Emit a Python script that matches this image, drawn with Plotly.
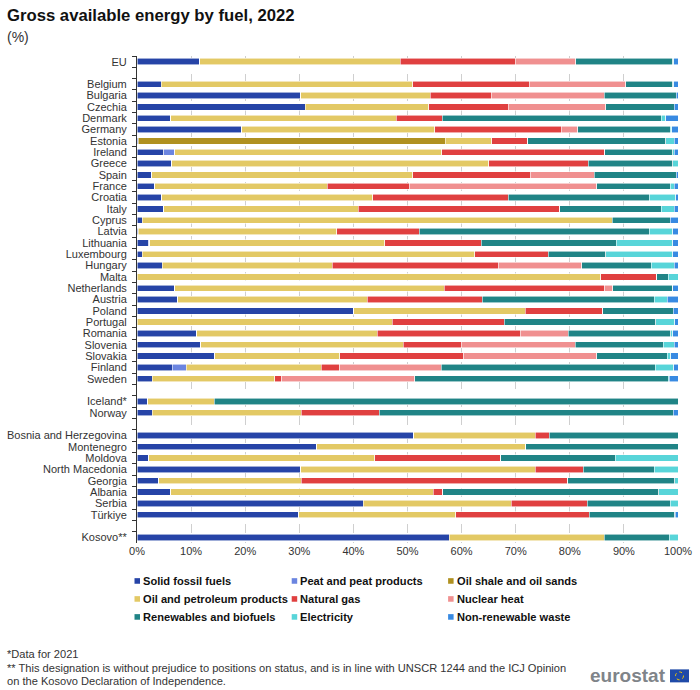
import plotly.graph_objects as go

W, H = 700, 690
LEFT, RIGHT, TOP, BOTTOM = 137.3, 678.3, 56, 543.5
FONT = 'Liberation Sans'

countries = ['EU', ' ',
             'Belgium', 'Bulgaria', 'Czechia', 'Denmark', 'Germany', 'Estonia', 'Ireland', 'Greece', 'Spain',
             'France', 'Croatia', 'Italy', 'Cyprus', 'Latvia', 'Lithuania', 'Luxembourg', 'Hungary', 'Malta',
             'Netherlands', 'Austria', 'Poland', 'Portugal', 'Romania', 'Slovenia', 'Slovakia', 'Finland', 'Sweden',
             '  ',
             'Iceland*', 'Norway',
             '   ',
             'Bosnia and Herzegovina', 'Montenegro', 'Moldova', 'North Macedonia', 'Georgia', 'Albania', 'Serbia',
             'Türkiye',
             '    ',
             'Kosovo**']

solid = [11.5, None,
         4.5, 30.3, 31.1, 6.2, 19.4, 0, 4.9, 6.4, 2.7, 3.3, 4.6, 4.9, 1.0, 0, 2.2, 1.0, 4.7, 0, 7.0, 7.5, 40.1, 0, 11.0, 11.8, 14.4, 6.5, 2.8,
         None, 2.0, 2.8, None,
         51.2, 33.2, 2.2, 30.3, 4.0, 6.2, 41.8, 29.9,
         None, 57.7]
peat = [0.1, None,
        0, 0, 0, 0, 0, 0.2, 2.1, 0, 0, 0, 0, 0, 0, 0.2, 0.2, 0, 0, 0, 0, 0, 0, 0, 0, 0, 0, 2.6, 0,
        None, 0, 0, None,
        0, 0, 0, 0, 0, 0, 0, 0,
        None, 0]
shale = [0, None,
         0, 0, 0, 0, 0, 56.8, 0, 0, 0, 0, 0, 0, 0, 0, 0, 0, 0, 0, 0, 0, 0, 0, 0, 0, 0, 0, 0,
         None, 0, 0, None,
         0, 0, 0, 0, 0, 0, 0, 0,
         None, 0]
oil = [37.1, None,
       46.5, 23.9, 22.8, 41.7, 35.6, 8.6, 49.3, 58.6, 48.3, 31.9, 39.0, 36.0, 86.8, 36.7, 43.4, 61.4, 31.4, 85.7, 49.8, 35.1, 31.7, 47.2, 33.4, 37.4, 23.1, 25.0, 22.7,
       None, 12.3, 27.6, None,
       22.4, 38.7, 41.7, 43.3, 26.4, 48.6, 27.4, 29.0,
       None, 28.7]
gas = [21.2, None,
       21.5, 11.3, 14.7, 8.5, 23.4, 6.6, 30.2, 18.4, 21.7, 15.1, 25.0, 37.2, 0, 15.3, 17.8, 13.6, 30.7, 10.4, 29.7, 21.2, 14.3, 20.7, 26.4, 10.7, 22.9, 3.4, 1.3,
       None, 0, 14.4, None,
       2.6, 0, 23.3, 8.9, 49.2, 1.7, 14.0, 24.7,
       None, 0]
nuclear = [11.2, None,
           17.8, 20.9, 18.0, 0, 3.1, 0, 0, 0, 11.8, 34.7, 0, 0, 0, 0, 0, 0, 15.4, 0, 1.4, 0, 0, 0, 8.9, 21.1, 24.6, 18.7, 24.5,
           None, 0, 0, None,
           0, 0, 0, 0, 0, 0, 0, 0,
           None, 0]
renewables = [17.9, None,
              8.7, 13.3, 12.7, 40.5, 17.1, 25.5, 12.5, 15.6, 15.2, 13.6, 26.1, 18.8, 10.8, 42.5, 25.0, 10.6, 12.9, 2.1, 11.1, 31.8, 13.0, 28.0, 19.0, 16.3, 13.0, 39.6, 46.9,
              None, 85.7, 54.3, None,
              23.8, 28.1, 21.2, 13.1, 19.8, 39.9, 15.4, 15.8,
              None, 12.0]
electricity = [0.2, None,
               0.2, 0, 0, 0.8, 0.2, 1.6, 0.3, 1.0, 0, 0.7, 4.9, 2.4, 0, 4.3, 10.4, 12.4, 4.2, 1.8, 0, 2.4, 0, 3.5, 0.3, 2.0, 0.7, 3.4, 0.2,
               None, 0, 0, None,
               0, 0, 11.6, 4.4, 0.6, 3.6, 1.4, 0.1,
               None, 1.6]
waste = [0.8, None,
         0.8, 0.3, 0.7, 2.3, 1.2, 0.7, 0.7, 0, 0.3, 0.7, 0.4, 0.7, 1.4, 1.0, 1.0, 1.0, 0.7, 0, 1.0, 2.0, 0.9, 0.6, 1.0, 0.7, 1.3, 0.8, 1.6,
         None, 0, 0.9, None,
         0, 0, 0, 0, 0, 0, 0, 0.5,
         None, 0]

pct_ticks = list(range(0, 101, 10))
pct_labels = [f'{v}%' for v in pct_ticks]

fuels = [
    ('Solid fossil fuels', solid, '#2644A7'),
    ('Peat and peat products', peat, '#6B85E0'),
    ('Oil shale and oil sands', shale, '#B09120'),
    ('Oil and petroleum products', oil, '#E3C965'),
    ('Natural gas', gas, '#E04040'),
    ('Nuclear heat', nuclear, '#F09090'),
    ('Renewables and biofuels', renewables, '#208486'),
    ('Electricity', electricity, '#58D5D9'),
    ('Non-renewable waste', waste, '#388AE2'),
]

# pixel position on the page -> paper fraction, for legend and footer items
def px(x):
    return (x - LEFT) / (RIGHT - LEFT)

def py(y):
    return (BOTTOM - y) / (BOTTOM - TOP)

fig = go.Figure()
for name, values, colour in fuels:
    fig.add_trace(go.Bar(y=countries, x=values, name=name, orientation='h',
                         marker=dict(color=colour, line=dict(color='rgba(255,255,255,0.8)', width=0.7)),
                         showlegend=False))

shapes = []
annotations = []

# legend is laid out by hand: small squares, three columns
legend_cols = [134.8, 292, 448.4]
legend_rows = [581.5, 599.5, 617.5]
for i, (name, values, colour) in enumerate(fuels):
    x0 = legend_cols[i % 3]
    yc = legend_rows[i // 3]
    shapes.append(dict(type='rect', xref='paper', yref='paper', x0=px(x0), x1=px(x0 + 5.5),
                       y0=py(yc + 2.8), y1=py(yc - 2.8), fillcolor=colour, line_width=0))
    annotations.append(dict(text=f'<b>{name}</b>', xref='paper', yref='paper', x=px(x0 + 6.5), y=py(yc), xanchor='left',
                            yanchor='middle', showarrow=False, font=dict(family=FONT, size=11.1, color='#111111')))

annotations.append(dict(text='(%)', xref='paper', yref='paper', x=px(5), y=py(36.5), xanchor='left', yanchor='middle',
                        showarrow=False, font=dict(family=FONT, size=14, color='#333333')))

notes = ['*Data for 2021',
         '** This designation is without prejudice to positions on status, and is in line with UNSCR 1244 and the ICJ Opinion',
         'on the Kosovo Declaration of Independence.']
for line, yc in zip(notes, [654.5, 668.5, 681.5]):
    annotations.append(dict(text=line, xref='paper', yref='paper', x=px(5.5), y=py(yc), xanchor='left', yanchor='middle',
                            showarrow=False, font=dict(family=FONT, size=11.1, color='#333333')))

# eurostat mark
annotations.append(dict(text='<b>eurostat</b>', xref='paper', yref='paper', x=px(668.5), y=py(676.5), xanchor='right',
                        yanchor='middle', showarrow=False, font=dict(family=FONT, size=19, color='#7F8489')))
shapes.append(dict(type='rect', xref='paper', yref='paper', x0=px(670.3), x1=px(689.3), y0=py(683), y1=py(670),
                   fillcolor='#1F4AA8', line_width=0))
shapes.append(dict(type='circle', xref='paper', yref='paper', x0=px(675.8), x1=px(683.8), y0=py(680.5), y1=py(672.5),
                   line=dict(color='#F2C800', width=1, dash='dot')))

fig.update_layout(
    width=W, height=H,
    barmode='stack', bargap=0.44,
    plot_bgcolor='white', paper_bgcolor='white',
    margin=dict(l=LEFT, r=W - RIGHT, t=TOP, b=H - BOTTOM, autoexpand=False),
    title=dict(text='<b>Gross available energy by fuel, 2022</b>', x=7 / W, xanchor='left', xref='container',
               y=1 - 15 / H, yanchor='middle', yref='container', font=dict(family=FONT, size=16.7, color='#111111')),
    font=dict(family=FONT, size=11, color='#333333'),
    xaxis=dict(range=[0, 100], tickvals=pct_ticks, ticktext=pct_labels, showgrid=True,
               gridcolor='#CFCFCF', griddash='dash', gridwidth=1, zeroline=False, showline=False, ticks='',
               tickfont=dict(size=11, color='#333333')),
    yaxis=dict(categoryorder='array', categoryarray=countries, autorange='reversed', tickson='boundaries',
               ticks='outside', ticklen=4, tickcolor='#333333', showline=True, linecolor='#333333', linewidth=1,
               showgrid=False, tickfont=dict(size=11, color='#333333'), dtick=1, ticklabelstandoff=7),
    shapes=shapes,
    annotations=annotations,
)

# the page's default body margin would push the figure 8px off the target position
fig.write_html('out.html', config={'displayModeBar': False}, post_script="document.body.style.margin='0';")
